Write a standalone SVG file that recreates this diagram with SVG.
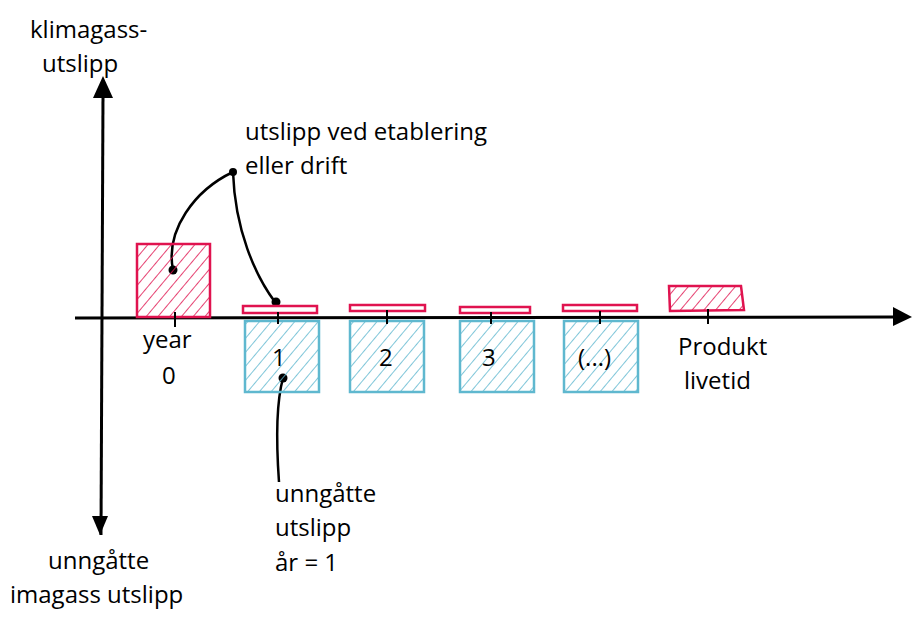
<svg xmlns="http://www.w3.org/2000/svg" width="913" height="626" viewBox="0 0 913 626">
<defs>
<pattern id="hr" patternUnits="userSpaceOnUse" width="9" height="9" patternTransform="rotate(40)">
<line x1="0" y1="0" x2="0" y2="9" stroke="#e0134f" stroke-width="1.6"/>
</pattern>
<pattern id="hb" patternUnits="userSpaceOnUse" width="9" height="9" patternTransform="rotate(40)">
<line x1="0" y1="0" x2="0" y2="9" stroke="#5fb8cf" stroke-width="1.6"/>
</pattern>
</defs>
<style>
text{font-family:"Open Sans","Liberation Sans",sans-serif;fill:#000;}
.lb{font-size:24px;}
.ax{stroke:#000;stroke-width:3;fill:none;}
.red{stroke:#e0134f;stroke-width:2.5;}
.blue{stroke:#5fb8cf;stroke-width:2.5;}
.tick{stroke:#000;stroke-width:2;}
.lead{stroke:#000;stroke-width:2.5;fill:none;}
</style>
<rect width="913" height="626" fill="#fff"/>

<g id="connectors">
<line class="ax" x1="101" y1="535" x2="103" y2="95"/>
<path d="M93,98 L103,76 L113,98 Z" fill="#000"/>
<path d="M92,516 L100,535 L108,516 Z" fill="#000"/>
<line class="ax" x1="75" y1="318" x2="895" y2="317"/>
<path d="M893,307 L912,317 L893,326 Z" fill="#000"/>
<path class="lead" d="M233,172 C195,190 165,230 173,270"/>
<path class="lead" d="M233,172 C235,230 255,275 275,302"/>
<circle cx="233" cy="172" r="4" fill="#000"/>
<circle cx="173" cy="270" r="4.5" fill="#000"/>
<circle cx="276" cy="302" r="4.5" fill="#000"/>
<path class="lead" d="M283,378 C277,400 276,440 279,482"/>
<circle cx="283" cy="378" r="4.5" fill="#000"/>
</g>

<g id="year0">
<rect x="137" y="244" width="73" height="73" fill="url(#hr)" class="red"/>
<line class="tick" x1="175" y1="312" x2="175" y2="327"/>
<text class="lb" x="143" y="348">year</text>
<text class="lb" x="162" y="384">0</text>
</g>

<g id="year1">
<rect x="243" y="306" width="74" height="7" fill="#fff" class="red"/>
<rect x="245" y="321" width="74" height="71" fill="url(#hb)" class="blue"/>
<line class="tick" x1="278" y1="312" x2="278" y2="324"/>
<text class="lb" x="272" y="366">1</text>
</g>

<g id="year2">
<rect x="350" y="305" width="75" height="6" fill="#fff" class="red"/>
<rect x="350" y="321" width="74" height="71" fill="url(#hb)" class="blue"/>
<line class="tick" x1="387" y1="310" x2="387" y2="324"/>
<text class="lb" x="379" y="366">2</text>
</g>

<g id="year3">
<rect x="460" y="307" width="70" height="6" fill="#fff" class="red"/>
<rect x="460" y="321" width="74" height="71" fill="url(#hb)" class="blue"/>
<line class="tick" x1="491" y1="312" x2="491" y2="324"/>
<text class="lb" x="482" y="366">3</text>
</g>

<g id="yearN">
<rect x="563" y="305" width="74" height="6" fill="#fff" class="red"/>
<rect x="564" y="321" width="74" height="71" fill="url(#hb)" class="blue"/>
<line class="tick" x1="600" y1="311" x2="600" y2="324"/>
<text class="lb" x="578" y="366">(...)</text>
</g>

<g id="lifetime">
<path d="M669,286 L741,286 L744,310 L670,311 Z" fill="url(#hr)" class="red"/>
<line class="tick" x1="708" y1="309" x2="708" y2="324"/>
<text class="lb" x="678" y="355">Produkt</text>
<text class="lb" x="684" y="389">livetid</text>
</g>

<g id="label-top">
<text class="lb" x="30" y="38">klimagass-</text>
<text class="lb" x="42" y="72">utslipp</text>
</g>

<g id="label-emission">
<text class="lb" x="245" y="140">utslipp ved etablering</text>
<text class="lb" x="245" y="174">eller drift</text>
</g>

<g id="label-avoided1">
<text class="lb" x="275" y="502">unngåtte</text>
<text class="lb" x="275" y="536">utslipp</text>
<text class="lb" x="275" y="571">år = 1</text>
</g>

<g id="label-bottom">
<text class="lb" x="48" y="569">unngåtte</text>
<text class="lb" x="10" y="603">imagass utslipp</text>
</g>
</svg>
